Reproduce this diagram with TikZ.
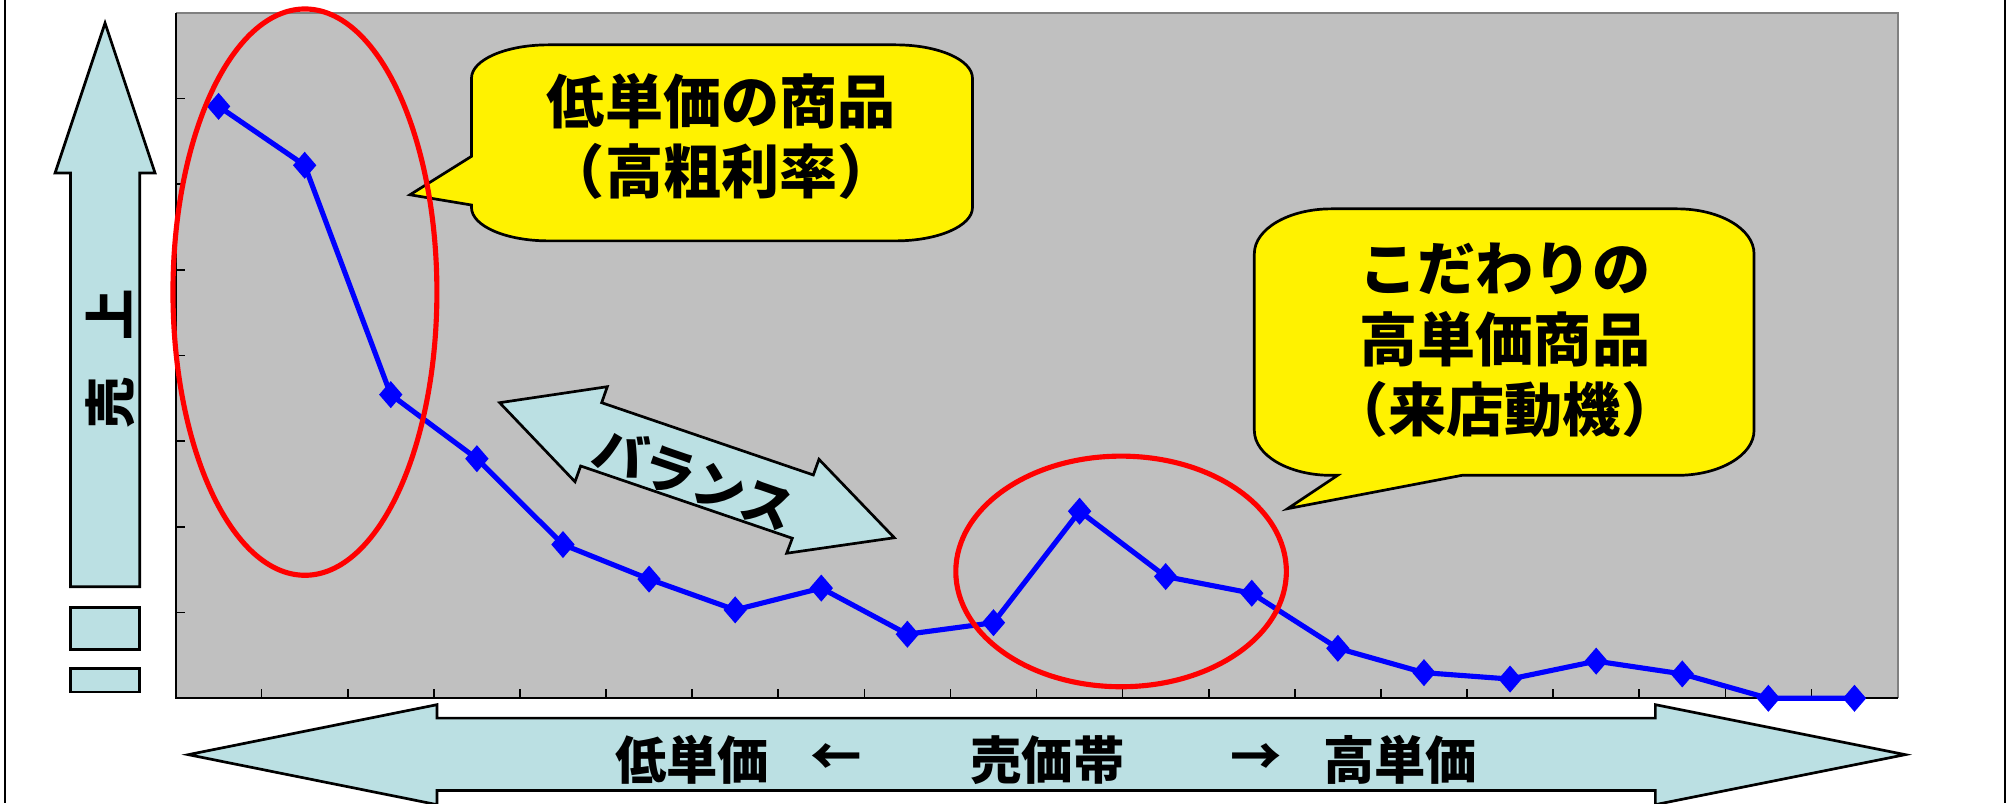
\documentclass[tikz,border=0pt]{standalone}
\usepackage{fontspec}
\newfontfamily\jpfont{Noto Sans CJK JP}
\usetikzlibrary{positioning, plotmarks}
\definecolor{PlotGray}{RGB}{192,192,192}
\definecolor{EdgeGray}{RGB}{128,128,128}
\definecolor{ArrowBlue}{RGB}{187,224,227}

\begin{document}
\begin{tikzpicture}[
		x=0.01cm, y=-0.01cm,
		ShapeStyle/.style={draw=black, line width=0.6pt, fill=ArrowBlue, line join=miter},
		CalloutStyle/.style={draw=black, line width=0.6pt, fill=yellow},
		RingStyle/.style={draw=red, line width=0.04cm},
		DataStyle/.style={draw=blue, line width=0.04cm, mark=diamond*, mark size=0.075cm,
			mark options={fill=blue, xscale=1.15}},
		BigText/.style={font=\jpfont\bfseries\fontsize{12.9}{15.65}\selectfont, align=center, inner sep=0pt},
		SmallText/.style={font=\jpfont\bfseries\fontsize{11.4}{13}\selectfont, inner sep=0pt}]
	\useasboundingbox (0,0) rectangle (1568,627);
	\draw[line width=0.016cm] (4,0) -- (4,627) (1565,0) -- (1565,627);
	% chart
	\fill[PlotGray] (137,10) rectangle (1481,545);
	\draw[EdgeGray, line width=0.016cm] (137,10) -- (1481,10) -- (1481,545);
	\draw[line width=0.016cm] (137,10) -- (137,545) -- (1481,545);
	\foreach \k in {1,...,7}
		\draw[line width=0.012cm] (137,10+66.875*\k) -- ++(7,0);
	\foreach \k in {1,...,19}
		\draw[line width=0.012cm] (137+67.2*\k,545) -- ++(0,-7);
	\draw[DataStyle] plot coordinates {(170.6,83) (237.8,129) (305,308) (372.2,358)
		(439.4,425) (506.6,452) (573.8,476) (641,459) (708.2,495) (775.4,486)
		(842.6,399) (909.8,450) (977,463) (1044.2,506) (1111.4,525) (1178.6,530)
		(1245.8,516) (1313,526) (1380.2,545) (1447.4,545)};
	% arrows
	\draw[ShapeStyle] (82,18) -- (121,135) -- (109,135) -- (109,458) -- (55,458)
		-- (55,135) -- (43,135) -- cycle;
	\draw[ShapeStyle] (55,474) rectangle (109,507);
	\draw[ShapeStyle] (55,522) rectangle (109,540);
	\node[SmallText, rotate=90] (salesTxt) at (86,280) {売\hspace{0.7em}上};
	\draw[ShapeStyle] (147,589) -- (341,550) -- (341,560.5) -- (1292,560.5) -- (1292,550)
		-- (1487,589) -- (1292,628) -- (1292,617) -- (341,617) -- (341,628) -- cycle;
	\node[SmallText] (bandTxt) at (817.5,593) {売価帯};
	\node[SmallText, left=0.83cm of bandTxt] (leftArr) {←};
	\node[SmallText, left=0.31cm of leftArr] (lowTxt) {低単価};
	\node[SmallText, right=0.81cm of bandTxt] (rightArr) {→};
	\node[SmallText, right=0.31cm of rightArr] (highTxt) {高単価};
	\draw[ShapeStyle] (390,314.3) -- (474,301.8) -- (469.6,314.3) -- (634.8,370.7)
		-- (639.2,358.5) -- (698,419.7) -- (614,431.8) -- (618.4,420.1) -- (453.2,363.7)
		-- (448.8,376) -- cycle;
	\node[BigText, rotate=-19, font=\jpfont\bfseries\fontsize{11.6}{14}\selectfont]
		(balanceTxt) at (542,373) {バランス};
	% callouts
	\draw[CalloutStyle] (368,160) -- (320,152) -- (368,122) -- (368,61)
		arc[start angle=180, end angle=270, x radius=60, y radius=26] -- (699,35)
		arc[start angle=270, end angle=360, x radius=60, y radius=26] -- (759,162)
		arc[start angle=0, end angle=90, x radius=60, y radius=26] -- (428,188)
		arc[start angle=90, end angle=180, x radius=60, y radius=26] -- cycle;
	\node[BigText] (lowCallout) at (563,106.4) {低単価の商品\\（高粗利率）};
	\draw[CalloutStyle] (1141,371) -- (1005,397) -- (1044,371) -- (1039,371)
		arc[start angle=90, end angle=180, x radius=60, y radius=35] -- (979,198)
		arc[start angle=180, end angle=270, x radius=60, y radius=35] -- (1309,163)
		arc[start angle=270, end angle=360, x radius=60, y radius=35] -- (1369,336)
		arc[start angle=0, end angle=90, x radius=60, y radius=35] -- cycle;
	\node[BigText] (highCallout) at (1174.5,265.8) {こだわりの\\高単価商品\\（来店動機）};
	% rings
	\draw[RingStyle] (238,228) ellipse [x radius=103, y radius=221];
	\draw[RingStyle] (875,446) ellipse [x radius=129, y radius=90];
\end{tikzpicture}
\end{document}
